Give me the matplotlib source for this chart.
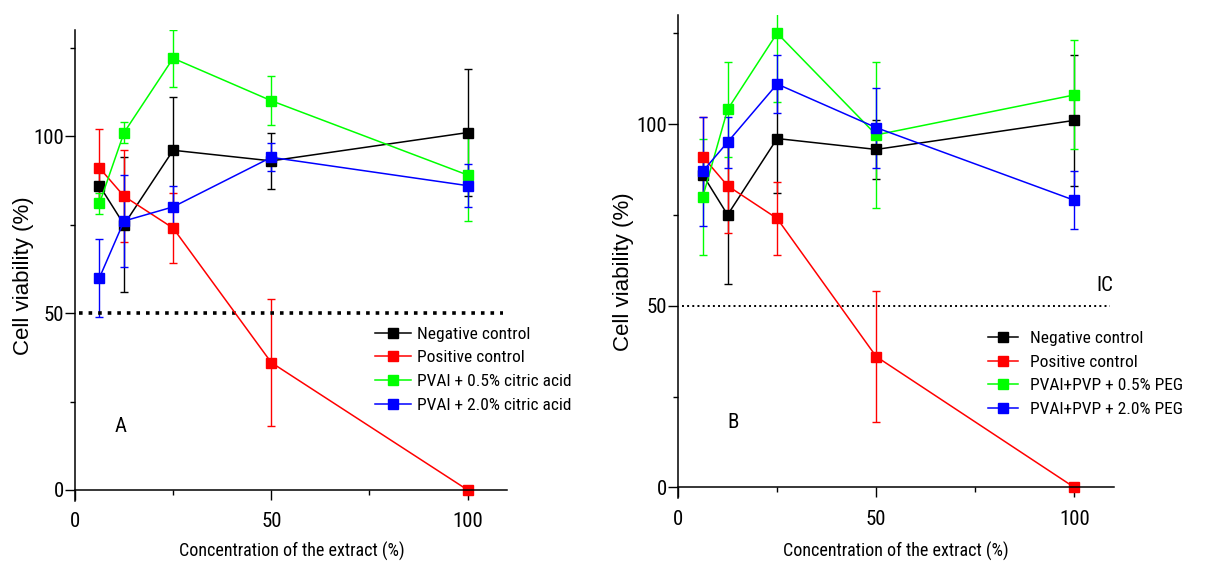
import matplotlib
matplotlib.use("Agg")
import matplotlib.pyplot as plt
from matplotlib.lines import Line2D
from matplotlib.ticker import FixedLocator

# --- datos ---
conc = [6.25, 12.5, 25, 50, 100]

neg = [86, 75, 96, 93, 101]
neg_err = [5, 19, 15, 8, 18]
pos = [91, 83, 74, 36, 0]
pos_err = [11, 13, 10, 18, 0]

pva_05 = [81, 101, 122, 110, 89]
pva_05_err = [3, 3, 8, 7, 13]
pva_20 = [60, 76, 80, 94, 86]
pva_20_err = [11, 13, 6, 4, 6]

peg_05 = [80, 104, 125, 97, 108]
peg_05_err = [16, 13, 19, 20, 15]
peg_20 = [87, 95, 111, 99, 79]
peg_20_err = [15, 7, 8, 11, 8]

labels_a = ['Negative control', 'Positive control',
            'PVAl + 0.5% citric acid', 'PVAl + 2.0% citric acid']
labels_b = ['Negative control', 'Positive control',
            'PVAl+PVP + 0.5% PEG', 'PVAl+PVP + 2.0% PEG']
colors = ['#000000', '#ff0000', '#00ff00', '#0000ff']

NARROW = ['Roboto Condensed', 'Liberation Sans', 'DejaVu Sans']
REG = ['Liberation Sans', 'DejaVu Sans']

fig = plt.figure(figsize=(12.05, 5.65), dpi=100)
ax_a = fig.add_axes([0.0622, 0.114, 0.3585, 0.833])
ax_b = fig.add_axes([0.5627, 0.118, 0.3618, 0.8555])


def draw_panel(ax, series, dot_lw):
    for (vals, errs), col in zip(series, colors):
        ax.errorbar(conc, vals, yerr=errs, color=col, lw=1.1,
                    marker='s', ms=6.8, mec=col, mfc=col,
                    capsize=3, capthick=1.0, elinewidth=1.0)
    ax.axhline(50, color='black', ls=':', lw=dot_lw, xmin=0.01, xmax=0.99)

    ax.set_xlim(0, 110)
    ax.set_ylim(-3, 130)
    for s in ['top', 'right']:
        ax.spines[s].set_visible(False)
    ax.spines['bottom'].set_position(('data', 0))
    ax.spines['left'].set_linewidth(1.1)
    ax.spines['bottom'].set_linewidth(1.1)

    ax.set_xticks([0, 50, 100])
    ax.set_yticks([0, 50, 100])
    ax.xaxis.set_minor_locator(FixedLocator([25, 75]))
    ax.yaxis.set_minor_locator(FixedLocator([25, 75, 125]))
    ax.tick_params(which='major', direction='out', length=7, width=1.0,
                   labelsize=15, pad=1)
    ax.tick_params(axis='x', which='major', pad=9)
    ax.tick_params(which='minor', direction='out', length=3.5, width=1.0)
    for lab in ax.get_xticklabels() + ax.get_yticklabels():
        lab.set_family(NARROW)

    return [Line2D([0], [0], color=c, lw=1.1, marker='s', ms=6.8)
            for c in colors]


h = draw_panel(ax_a, [(neg, neg_err), (pos, pos_err),
                      (pva_05, pva_05_err), (pva_20, pva_20_err)], 2.6)
ax_a.legend(h, labels_a, loc='upper left', bbox_to_anchor=(0.695, 0.370),
            frameon=False, borderpad=0, borderaxespad=0, handlelength=2.05,
            handletextpad=0.35, labelspacing=0.5,
            prop={'family': NARROW, 'size': 12.5})
ax_a.text(11.5, 18, 'A', fontsize=15, family=NARROW, ha='center', va='center')

h = draw_panel(ax_b, [(neg, neg_err), (pos, pos_err),
                      (peg_05, peg_05_err), (peg_20, peg_20_err)], 1.4)
ax_b.legend(h, labels_b, loc='upper left', bbox_to_anchor=(0.712, 0.347),
            frameon=False, borderpad=0, borderaxespad=0, handlelength=1.7,
            handletextpad=0.7, labelspacing=0.5,
            prop={'family': NARROW, 'size': 12.5})
ax_b.text(13.8, 18, 'B', fontsize=15, family=NARROW, ha='center', va='center')
ax_b.text(107.8, 55.6, 'IC', fontsize=15, family=NARROW, ha='center',
          va='center')

# --- titulos de ejes ---
W, H = 1205, 565
fig.text(23 / W, 1 - 276 / H, 'Cell viability (%)', rotation=90,
         fontsize=16, family=REG, ha='center', va='center')
fig.text(623 / W, 1 - 272 / H, 'Cell viability (%)', rotation=90,
         fontsize=16, family=REG, ha='center', va='center')
fig.text(292 / W, 1 - 551 / H, 'Concentration of the extract (%)',
         fontsize=13, family=NARROW, ha='center', va='center')
fig.text(896 / W, 1 - 551 / H, 'Concentration of the extract (%)',
         fontsize=13, family=NARROW, ha='center', va='center')

fig.savefig('out.png', dpi=100)
